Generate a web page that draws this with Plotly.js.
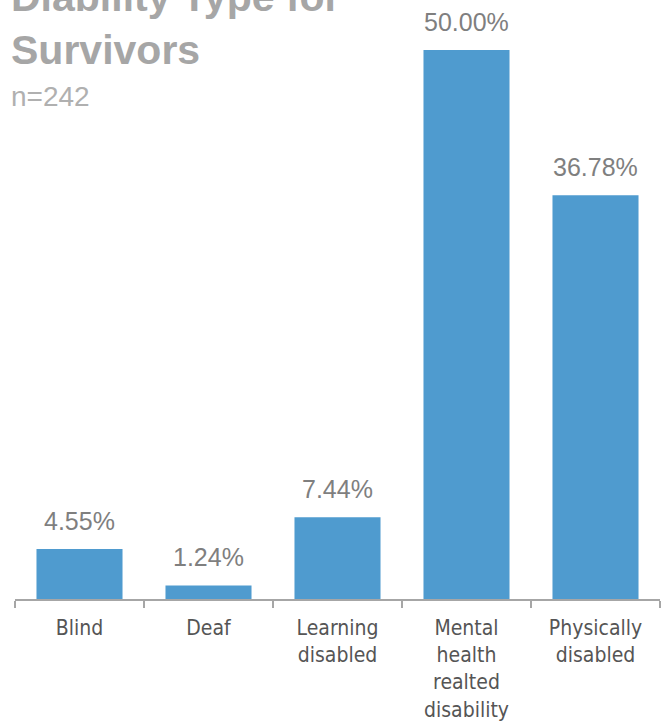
<!DOCTYPE html>
<html><head><meta charset="utf-8">
<script src="https://cdn.plot.ly/plotly-3.0.1.min.js"></script>
<style>html,body{margin:0;padding:0;background:#fff}#chart{width:668px;height:721px}</style>
</head><body><div id="chart"></div>
<script>
const categories = ["Blind", "Deaf", "Learning<br>disabled", "Mental<br>health<br>realted<br>disability", "Physically<br>disabled"];
const values = [4.55, 1.24, 7.44, 50.00, 36.78];
const labels = ["4.55%", "1.24%", "7.44%", "50.00%", "36.78%"];
const titleLine1 = "Diability Type for";
const titleLine2 = "Survivors";
const subtitle = "n=242";

const trace = {
  type: 'bar', x: categories, y: values,
  marker: {color: '#4f9bcf'}, width: 0.667, hoverinfo: 'none'
};
const valueAnnotations = categories.map((c, i) => ({
  x: c, y: values[i], xref: 'x', yref: 'y', text: labels[i], showarrow: false,
  xanchor: 'center', yanchor: 'bottom', yshift: 12,
  font: {family: 'Liberation Sans, Arial, sans-serif', size: 25, color: '#7f7f7f'}
}));
const titleFont = {family: 'Liberation Sans, Arial, sans-serif', size: 41, color: '#a6a6a6', weight: 'bold'};
const layout = {
  width: 668, height: 721,
  margin: {l: 15, r: 8, t: 50, b: 122},
  paper_bgcolor: '#fff', plot_bgcolor: '#fff',
  showlegend: false,
  xaxis: {
    showline: true, linecolor: '#a6a6a6', linewidth: 1.5,
    ticks: 'outside', tickson: 'boundaries', ticklen: 7, tickcolor: '#a6a6a6', tickwidth: 1.5,
    tickfont: {family: 'Liberation Sans Narrow, Arial Narrow, DejaVu Sans Condensed, sans-serif', size: 21, color: '#555555'},
    ticklabelstandoff: 9
  },
  yaxis: {range: [0, 50], visible: false, fixedrange: true},
  annotations: [
    {text: titleLine1, xref: 'paper', yref: 'paper', x: 0, xshift: -6, y: 1, yshift: 28, xanchor: 'left', yanchor: 'bottom', showarrow: false, font: titleFont},
    {text: titleLine2, xref: 'paper', yref: 'paper', x: 0, xshift: -6, y: 1, yshift: -25, xanchor: 'left', yanchor: 'bottom', showarrow: false, font: titleFont},
    {text: subtitle, xref: 'paper', yref: 'paper', x: 0, xshift: -6, y: 1, yshift: -64, xanchor: 'left', yanchor: 'bottom', showarrow: false,
     font: {family: 'Liberation Sans, Arial, sans-serif', size: 28, color: '#b0b0b0'}}
  ].concat(valueAnnotations)
};
Plotly.newPlot('chart', [trace], layout, {displayModeBar: false, staticPlot: true});
</script>
</body></html>
